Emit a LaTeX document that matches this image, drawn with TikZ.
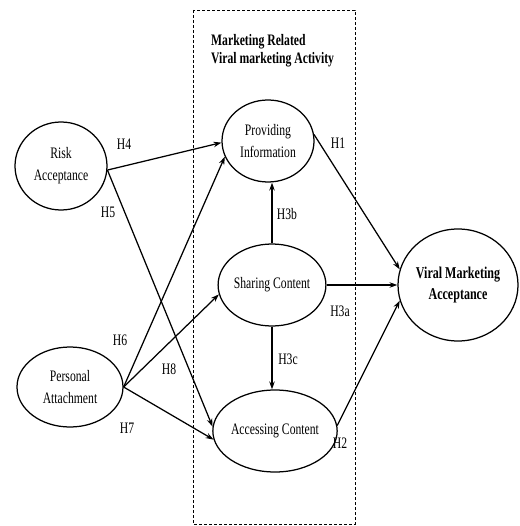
\documentclass[tikz,border=0pt]{standalone}
\usepackage{fontspec}
\setmainfont{Liberation Serif}[FakeStretch=0.73]
\usetikzlibrary{shapes.geometric,arrows.meta}
\begin{document}
\begin{tikzpicture}[x=1pt,y=-1pt,
  construct/.style={draw,ellipse,line width=1.25pt,inner sep=0pt,align=center,
    font=\fontsize{16}{22}\selectfont},
  hyp/.style={font=\fontsize{16}{18}\selectfont,inner sep=0pt},
  path/.style={line width=1.25pt,-{Stealth[length=8pt,width=5.5pt]}},
]
\useasboundingbox (0,0) rectangle (519,526);

% grouping frame for the viral marketing activity constructs
\draw[line width=0.9pt,dash pattern=on 3pt off 2pt] (193,10) rectangle (355,524);
\node[anchor=west,align=left,inner sep=0pt,font=\fontsize{16}{18}\bfseries\selectfont]
  (title) at (211,51) {Marketing Related\\Viral marketing Activity};

% constructs
\node[construct,minimum width=92pt,minimum height=88pt] (risk) at (61,166) {Risk\\Acceptance};
\node[construct,minimum width=106pt,minimum height=80pt] (pers) at (70,387) {Personal\\Attachment};
\node[construct,minimum width=92pt,minimum height=82pt] (prov) at (268,141) {Providing\\Information};
\node[construct,minimum width=100pt,minimum height=82pt] (shar) at (272,285) {Sharing Content};
\node[construct,minimum width=96pt,minimum height=82pt] (acc) at (275,431) {Accessing Content};
\node[construct,minimum width=120pt,minimum height=112pt,
  font=\fontsize{16.5}{21}\bfseries\selectfont] (vma) at (458,285) {Viral Marketing\\Acceptance};

% hypothesised paths
\draw[path] (risk.-5) -- (prov.182);
\draw[path] (risk.-5) -- (acc.176);
\draw[path] (pers.east) -- (prov.200);
\draw[path] (pers.east) -- (shar.190);
\draw[path] (pers.east) -- (acc.188);
\draw[path] (shar.north) -- (shar.north |- prov.south);
\draw[path] (shar.south) -- (shar.south |- acc.north);
\draw[path] (shar.east) -- (vma.west);
\draw[path] (prov.8) -- (vma.165);
\draw[path] (acc.5) -- (vma.195);

% hypothesis labels
\node[hyp] (h4) at (124,144) {H4};
\node[hyp] (h5) at (108,212) {H5};
\node[hyp] (h6) at (120,340) {H6};
\node[hyp] (h8) at (169,369) {H8};
\node[hyp] (h7) at (127,428) {H7};
\node[hyp] (h1) at (338,143) {H1};
\node[hyp] (h3b) at (287,214) {H3b};
\node[hyp] (h3a) at (340,311) {H3a};
\node[hyp] (h3c) at (288,359) {H3c};
\node[hyp] (h2) at (340,443) {H2};
\end{tikzpicture}
\end{document}
